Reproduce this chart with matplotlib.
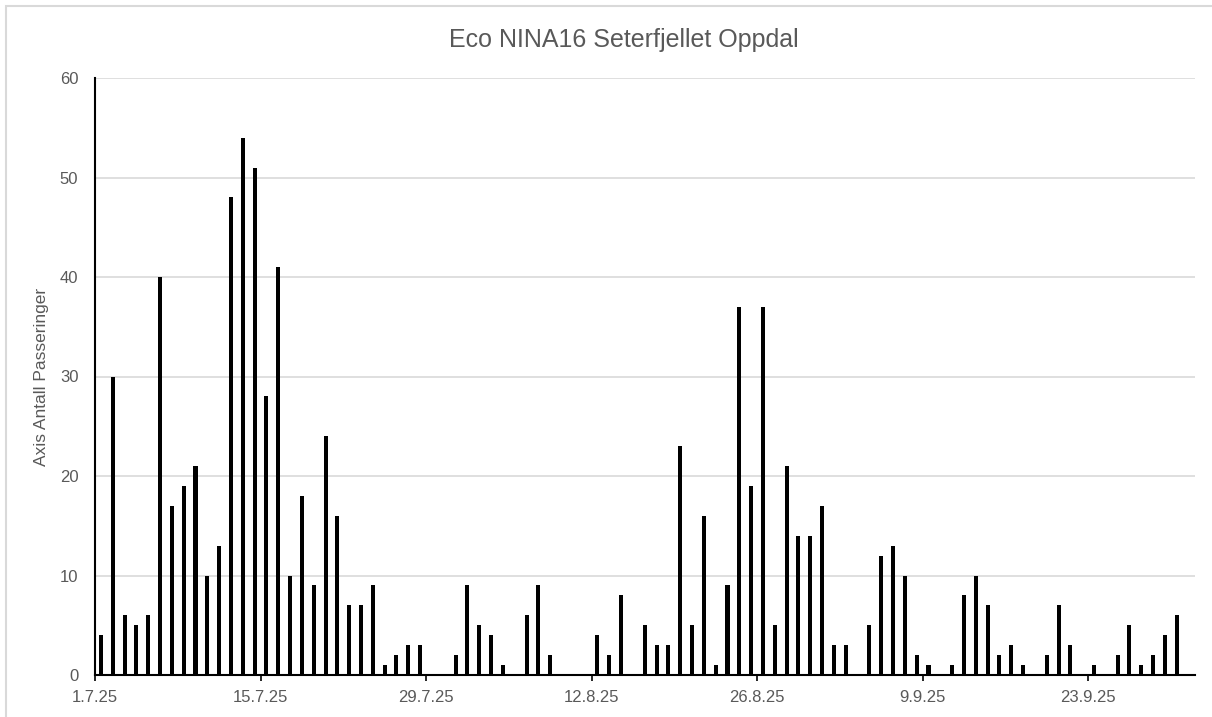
import numpy as np
import pandas as pd
import matplotlib
matplotlib.use("Agg")
import matplotlib.pyplot as plt
from matplotlib.patches import Rectangle

# ---- data ----
dates = pd.date_range("2025-07-01", "2025-09-30", freq="D")
values = [4, 30, 6, 5, 6, 40, 17, 19, 21, 10, 13, 48, 54, 51, 28, 41, 10, 18, 9, 24,
          16, 7, 7, 9, 1, 2, 3, 3, 0, 0, 2, 9, 5, 4, 1, 0, 6, 9, 2, 0,
          0, 0, 4, 2, 8, 0, 5, 3, 3, 23, 5, 16, 1, 9, 37, 19, 37, 5, 21, 14,
          14, 17, 3, 3, 0, 5, 12, 13, 10, 2, 1, 0, 1, 8, 10, 7, 2, 3, 1, 0,
          2, 7, 3, 0, 1, 0, 2, 5, 1, 2, 4, 6]
tick_dates = ["2025-07-01", "2025-07-15", "2025-07-29", "2025-08-12",
              "2025-08-26", "2025-09-09", "2025-09-23"]
tick_labels = ["1.7.25", "15.7.25", "29.7.25", "12.8.25", "26.8.25", "9.9.25", "23.9.25"]
y_ticks = [0, 10, 20, 30, 40, 50, 60]
title = "Eco NINA16 Seterfjellet Oppdal"
ylabel = "Axis Antall Passeringer"

start = pd.Timestamp("2025-07-01")
x = np.array([(d - start).days for d in dates]) + 0.5
tick_pos = [(pd.Timestamp(t) - start).days for t in tick_dates]

plt.rcParams['font.family'] = ['Liberation Sans', 'DejaVu Sans']
gray = "#595959"

fig = plt.figure(figsize=(12.12, 7.17), dpi=100)
fig.patch.set_facecolor("white")
# chart area border (extends beyond right/bottom)
fig.patches.append(Rectangle((6 / 1212, -0.05), 1.2, (1 - 6 / 717) + 0.05,
                             transform=fig.transFigure, fill=False,
                             edgecolor="#d9d9d9", linewidth=1.5, zorder=0))

ax = fig.add_axes([95 / 1212, 1 - 675 / 717, (1194.5 - 95) / 1212, (675 - 78) / 717])
ax.bar(x, values, width=0.34, color="black", zorder=3)

ax.set_xlim(0, 93)
ax.set_ylim(0, 60)
ax.set_yticks(y_ticks)
ax.set_xticks(tick_pos)
ax.set_xticklabels(tick_labels)

ax.grid(axis="y", color="#d9d9d9", linewidth=1.2, zorder=0)
ax.set_axisbelow(True)
for s in ["top", "right"]:
    ax.spines[s].set_visible(False)
ax.spines["left"].set_color("black")
ax.spines["left"].set_linewidth(1.5)
ax.spines["bottom"].set_color("black")
ax.spines["bottom"].set_linewidth(1.5)

ax.tick_params(axis="y", length=0, pad=12, labelsize=12, labelcolor=gray)
ax.tick_params(axis="x", length=4, width=1.2, color="black", direction="out",
               pad=7, labelsize=12, labelcolor=gray)

ax.set_ylabel(ylabel, fontsize=12.5, color=gray, labelpad=8)
fig.text(0.515, 1 - 40 / 717, title, ha="center", va="center", fontsize=18, color=gray)

fig.savefig("out.png", dpi=100, facecolor="white")
